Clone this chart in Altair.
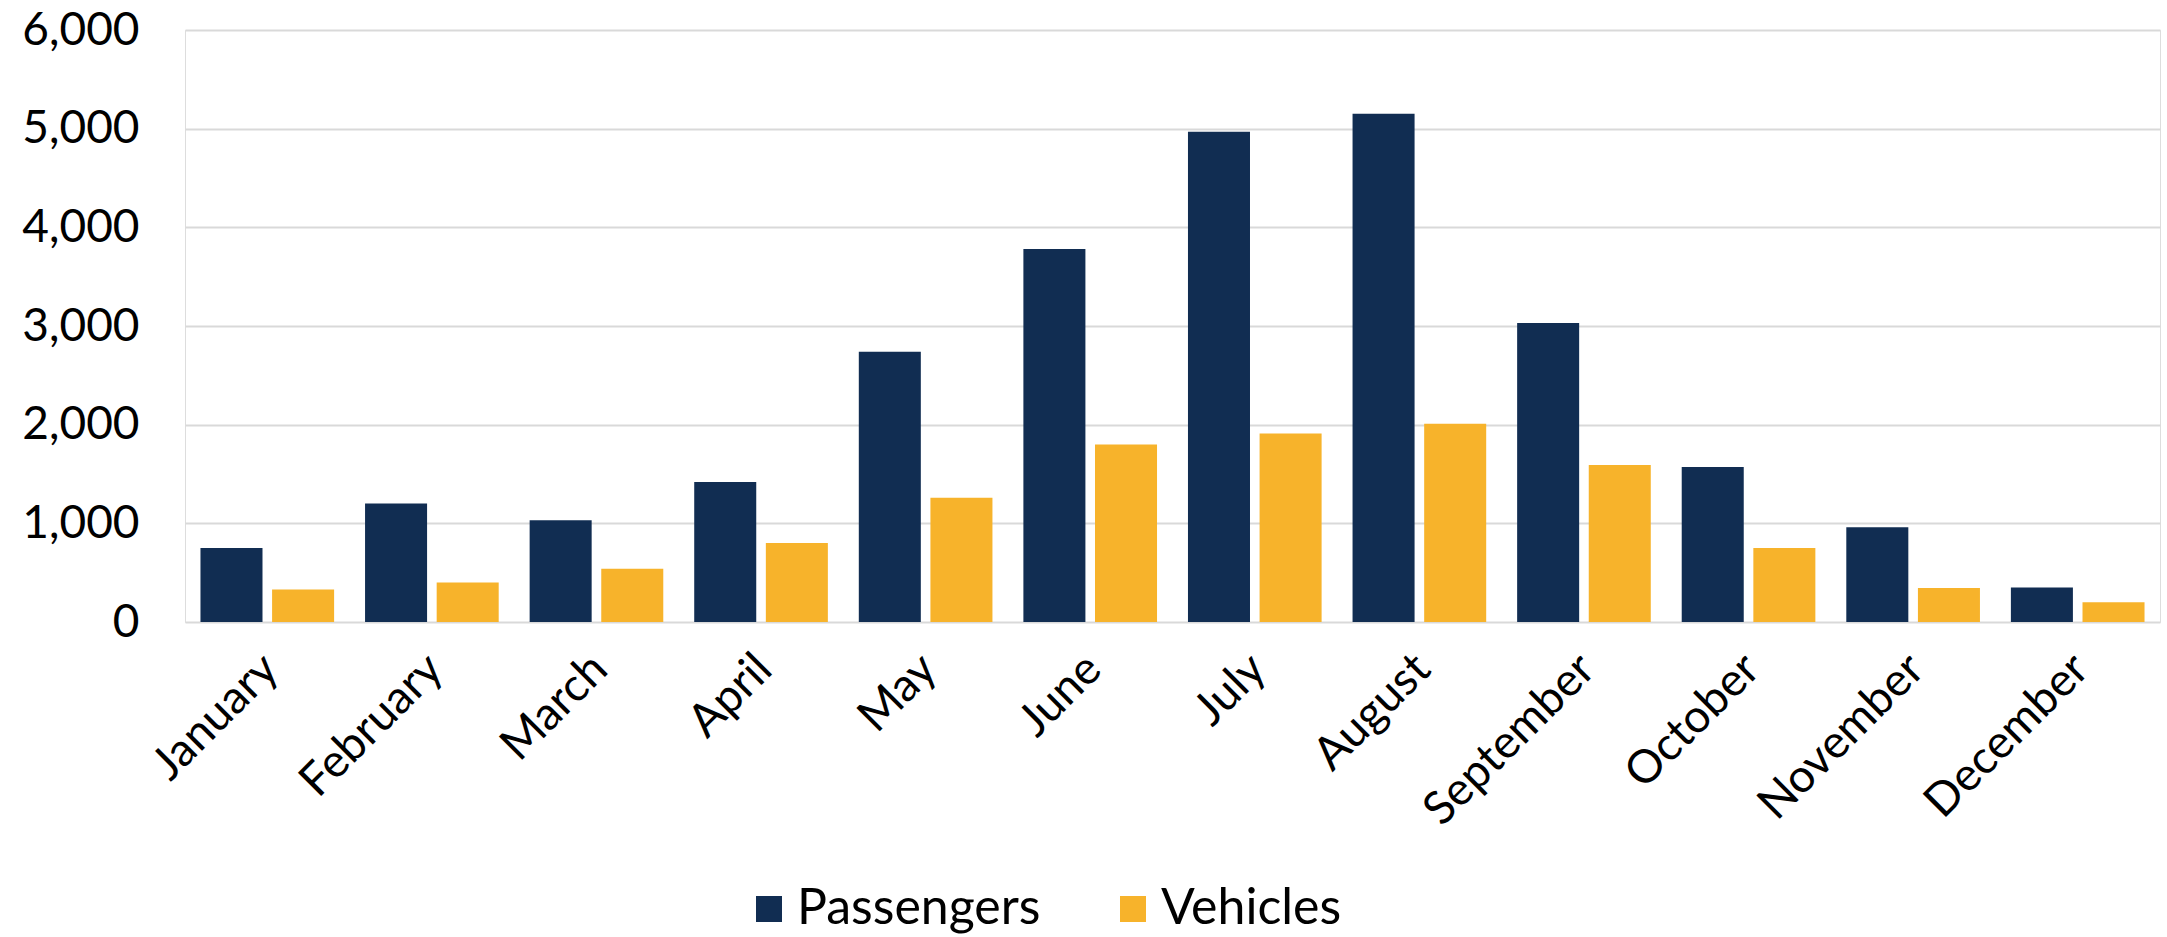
import altair as alt
import pandas as pd

months = ["January", "February", "March", "April", "May", "June", "July",
          "August", "September", "October", "November", "December"]
passengers = [750, 1200, 1030, 1420, 2740, 3780, 4970, 5150, 3030, 1570, 960, 350]
vehicles = [330, 400, 540, 800, 1260, 1800, 1910, 2010, 1590, 750, 345, 200]
series = ["Passengers", "Vehicles"]
colors = ["#112D52", "#F7B32B"]
y_ticks = [0, 1000, 2000, 3000, 4000, 5000, 6000]

rows = []
for i, m in enumerate(months):
    rows.append({"month": m, "series": series[0], "value": passengers[i]})
    rows.append({"month": m, "series": series[1], "value": vehicles[i]})
df = pd.DataFrame(rows)

FONT = "Lato"
FS = 46

chart = alt.Chart(df).mark_bar().encode(
    x=alt.X("month:N", sort=months,
            scale=alt.Scale(paddingInner=0.188, paddingOuter=0.094),
            axis=alt.Axis(title=None, labelAngle=-45, labelFontSize=FS,
                          labelFont=FONT, labelColor="#000000", ticks=False,
                          domain=False, labelPadding=24, labelOffset=-12,
                          grid=False, labelLimit=400)),
    xOffset=alt.XOffset("series:N", sort=series,
                        scale=alt.Scale(paddingInner=0.134, paddingOuter=0)),
    y=alt.Y("value:Q", scale=alt.Scale(domain=[0, 6000], nice=False),
            axis=alt.Axis(title=None, values=y_ticks, format=",.0f",
                          labelFontSize=FS, labelFont=FONT, labelColor="#000000",
                          ticks=False, domain=False, labelPadding=46,
                          grid=True, gridColor="#D9D9D9", gridWidth=2)),
    color=alt.Color("series:N", sort=series,
                    scale=alt.Scale(domain=series, range=colors),
                    legend=alt.Legend(title=None, orient="none", direction="horizontal",
                                      legendX=559, legendY=854,
                                      symbolType="square", symbolSize=676,
                                      symbolStrokeWidth=0, labelFontSize=50,
                                      labelFont=FONT, labelColor="#000000",
                                      labelLimit=400, columnPadding=67,
                                      labelOffset=3)),
).properties(
    width=1975,
    height=592,
    autosize=alt.AutoSizeParams(type="none"),
    padding={"left": 185, "top": 30, "right": 7, "bottom": 315},
).configure_view(stroke=None).configure(background="white")

chart.save("out.html", embed_options={"renderer": "svg", "actions": False})
